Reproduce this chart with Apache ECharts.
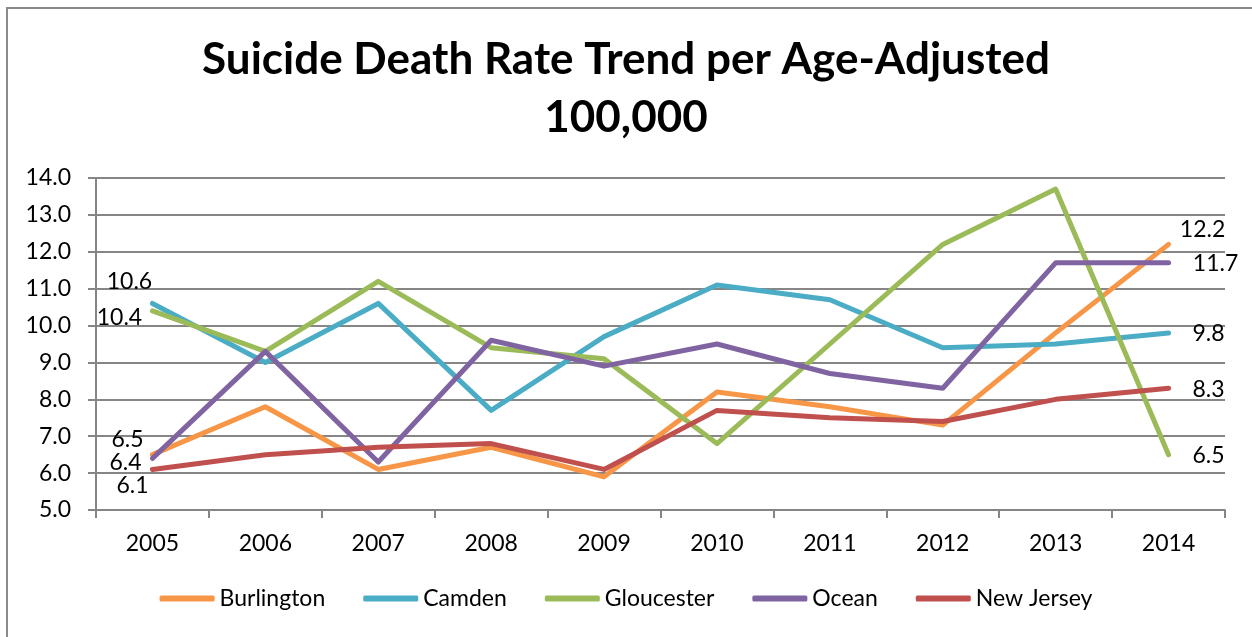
<!DOCTYPE html>
<html>
<head>
<meta charset="utf-8">
<script src="https://cdn.jsdelivr.net/npm/echarts@6/dist/echarts.min.js"></script>
<style>
  html, body { margin: 0; padding: 0; background: #fff; }
  #chart { width: 1252px; height: 637px; }
</style>
</head>
<body>
<div id="chart"></div>
<script>
// data
const years = ['2005', '2006', '2007', '2008', '2009', '2010', '2011', '2012', '2013', '2014'];
const burlington = [6.5, 7.8, 6.1, 6.7, 5.9, 8.2, 7.8, 7.3, 9.8, 12.2];
const camden = [10.6, 9.0, 10.6, 7.7, 9.7, 11.1, 10.7, 9.4, 9.5, 9.8];
const gloucester = [10.4, 9.3, 11.2, 9.4, 9.1, 6.8, 9.5, 12.2, 13.7, 6.5];
const ocean = [6.4, 9.3, 6.3, 9.6, 8.9, 9.5, 8.7, 8.3, 11.7, 11.7];
const newJersey = [6.1, 6.5, 6.7, 6.8, 6.1, 7.7, 7.5, 7.4, 8.0, 8.3];

const FONT = 'Lato, "Open Sans", sans-serif';

// first / last point labels, offsets from the point
const makeData = (values, firstOffset, lastOffset) => values.map((v, i) => {
  let offset = null;
  if (i === 0) offset = firstOffset;
  if (i === values.length - 1) offset = lastOffset;
  if (!offset) return v;
  return {
    value: v,
    label: {
      show: true,
      position: 'inside',
      offset: offset,
      formatter: p => p.value.toFixed(1),
      color: '#000',
      fontFamily: FONT,
      fontSize: 23
    }
  };
});

const lineSeries = (name, color, values, firstOffset, lastOffset) => ({
  name,
  type: 'line',
  symbol: 'circle',
  symbolSize: 0,
  itemStyle: { color },
  lineStyle: { color, width: 5, cap: 'round', join: 'round' },
  emphasis: { disabled: true },
  data: makeData(values, firstOffset, lastOffset)
});

const chart = echarts.init(document.getElementById('chart'));
chart.setOption({
  animation: false,
  backgroundColor: '#fff',
  graphic: [{
    type: 'rect',
    shape: { x: 7, y: 8, width: 1300, height: 700 },
    style: { fill: 'none', stroke: '#8a8a8a', lineWidth: 2 },
    silent: true
  }],
  title: {
    text: 'Suicide Death Rate Trend per Age-Adjusted\n100,000',
    left: 'center',
    top: 31,
    padding: 0,
    textStyle: { fontFamily: FONT, fontWeight: 'bold', fontSize: 44, lineHeight: 58, color: '#000' }
  },
  legend: {
    bottom: 22,
    left: 'center',
    icon: 'roundRect',
    itemWidth: 55,
    itemHeight: 6,
    itemGap: 38,
    textStyle: { fontFamily: FONT, fontSize: 23, color: '#000' },
    data: ['Burlington', 'Camden', 'Gloucester', 'Ocean', 'New Jersey']
  },
  grid: { left: 96, right: 27, top: 178, bottom: 127 },
  xAxis: {
    type: 'category',
    data: years,
    boundaryGap: true,
    axisLine: { lineStyle: { color: '#868686', width: 2 } },
    axisTick: { show: true, length: 8, lineStyle: { color: '#868686', width: 2 } },
    axisLabel: { margin: 22, fontFamily: FONT, fontSize: 23, color: '#000' }
  },
  yAxis: {
    type: 'value',
    min: 5,
    max: 14,
    interval: 1,
    axisLine: { show: true, lineStyle: { color: '#868686', width: 2 } },
    axisTick: { show: true, length: 8, lineStyle: { color: '#868686', width: 2 } },
    splitLine: { lineStyle: { color: '#868686', width: 2 } },
    axisLabel: { margin: 25, fontFamily: FONT, fontSize: 23, color: '#000', formatter: v => v.toFixed(1) }
  },
  series: [
    lineSeries('Burlington', '#F79646', burlington, [-25, -15], [34, -15]),
    lineSeries('Camden', '#4BACC6', camden, [-23, -22], [40, 1]),
    lineSeries('Gloucester', '#9BBB59', gloucester, [-33, 7], [40, 1]),
    lineSeries('Ocean', '#8064A2', ocean, [-27, 4], [47, 1]),
    lineSeries('New Jersey', '#C0504D', newJersey, [-20, 16], [40, 1])
  ]
});
</script>
</body>
</html>
